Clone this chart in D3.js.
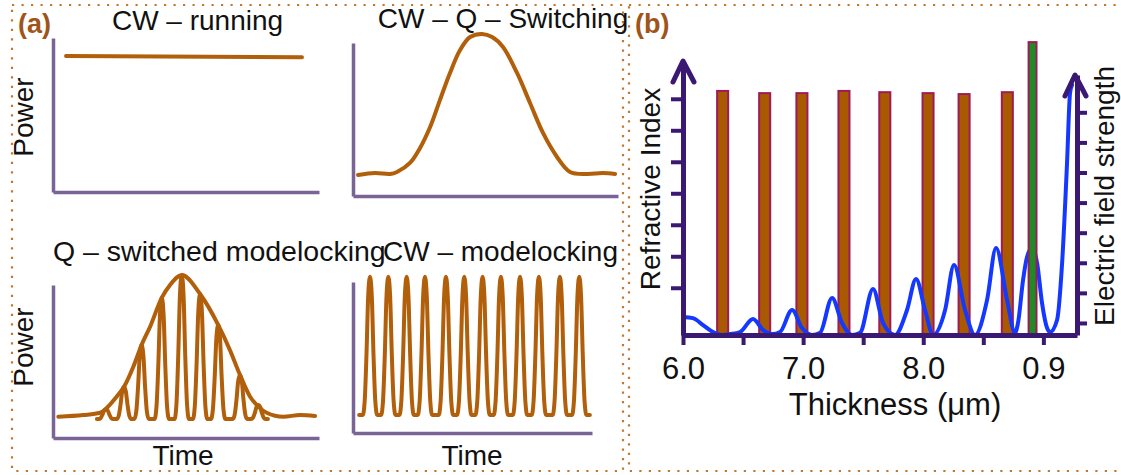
<!DOCTYPE html>
<html><head><meta charset="utf-8">
<script src="https://cdn.jsdelivr.net/npm/d3@7"></script>
<style>
body{margin:0;background:#fff}
svg{display:block;font-family:"Liberation Sans",Arial,Helvetica,sans-serif}
</style>
</head><body>
<svg id="c" width="1121" height="475"></svg>
<script>
// ---------- DATA (panel a: time in arbitrary units, power normalised) ----------
const cwRunning = [[0.49,0.883],[9.36,0.875]];
const qSwitching = [[0.19,0.137],[0.83,0.150],[1.40,0.144],[1.66,0.157],[2.15,0.216],[2.53,0.314],[2.91,0.451],[3.28,0.627],[3.66,0.804],[4.04,0.954],[4.42,1.039],[4.87,1.059],[5.25,1.039],[5.66,0.974],[6.19,0.804],[6.68,0.608],[7.17,0.412],[7.70,0.255],[8.19,0.157],[8.83,0.144],[9.43,0.150],[9.89,0.144]];
const qmlEnvelope = [[0.20,0.139],[1.14,0.150],[1.77,0.165],[2.39,0.270],[2.67,0.335],[3.02,0.466],[3.33,0.608],[3.65,0.727],[4.09,0.917],[4.40,1.000],[4.84,1.065],[5.53,0.941],[6.21,0.739],[6.65,0.575],[7.03,0.412],[7.41,0.270],[7.72,0.205],[8.03,0.165],[8.66,0.139],[9.29,0.150],[9.85,0.144]];
const qmlPulseTimes = [1.99,2.67,3.33,4.09,4.84,5.53,6.21,7.03,7.72];
const qmlPulsePeaks = [0.188,0.335,0.608,0.917,1.065,0.941,0.739,0.412,0.216];
const qmlBase = 0.124, qmlStart = 1.65, qmlEnd = 8.08;
const cwmlPulseTimes = [0.64,1.33,2.02,2.71,3.50,4.19,4.88,5.57,6.29,7.00,7.79,8.52];
const cwmlPeak = 1.035, cwmlBase = 0.119, cwmlStart = 0.23, cwmlEnd = 8.92;
// pulse profile: [time offset, fraction of pulse height]
const pulseShape = [[-0.27,0],[-0.2,0.1],[-0.13,0.45],[-0.07,0.85],[0,1],[0.07,0.85],[0.13,0.45],[0.2,0.1],[0.27,0]];

// ---------- DATA (panel b) ----------
const thicknessTicks = [6,6.5,7,7.5,8,8.5,9];
const thicknessTickLabels = ["6.0","","7.0","","8.0","","0.9"];
const indexTicks = [1.5,2.5,3.5,4.5,5.5,6.5,7.5];
const fieldTicks = [0.4,1.4,2.4,3.4,4.4,5.4,6.4,7.4];
const layerCenters = [6.33,6.68,6.99,7.34,7.68,8.04,8.34,8.70];
const layerIndex = [7.75,7.68,7.68,7.75,7.71,7.68,7.65,7.71];
const topLayerCenter = 8.91, topLayerIndex = 9.30;
const fieldCurve = [[6.000,0.60],[6.083,0.56],[6.167,0.33],[6.250,0.10],[6.325,0.0],[6.391,0.03],[6.475,0.10],[6.583,0.53],[6.666,0.17],[6.741,0.03],[6.808,0.10],[6.908,0.83],[6.991,0.23],[7.074,0.0],[7.141,0.07],[7.241,1.23],[7.324,0.40],[7.407,0.0],[7.474,0.07],[7.582,1.53],[7.665,0.40],[7.765,0.0],[7.865,0.83],[7.940,1.86],[8.015,0.83],[8.082,0.0],[8.182,0.83],[8.256,2.33],[8.348,0.83],[8.431,0.0],[8.531,1.16],[8.606,2.89],[8.698,1.16],[8.764,0.07],[8.789,0.40],[8.831,1.83],[8.864,2.59],[8.906,2.89],[8.948,2.39],[8.989,1.06],[9.031,0.23],[9.056,0.10],[9.114,0.50],[9.156,2.39],[9.197,5.71],[9.222,8.04],[9.239,8.31]];

// ---------- DRAWING ----------
const svg = d3.select("#c");
const BROWN = "#b15f0a", AXA = "#7a6496", DOT = "#c2782e", LBL = "#a0541a";
const AXB = "#3b1872", BLUE = "#1438ff";

svg.append("rect").attr("width",1121).attr("height",475).attr("fill","#fff");
// dotted frames
[[12,5,611,466],[629,5,500,466]].forEach(r=>{
  svg.append("rect").attr("x",r[0]).attr("y",r[1]).attr("width",r[2]).attr("height",r[3])
    .attr("fill","none").attr("stroke",DOT).attr("stroke-width",2.2).attr("stroke-dasharray","2.2,7.3");
});
svg.append("text").attr("x",18).attr("y",33).attr("font-size",27).attr("font-weight","bold").attr("fill",LBL).text("(a)");
svg.append("text").attr("x",635).attr("y",33).attr("font-size",27).attr("font-weight","bold").attr("fill",LBL).text("(b)");

function smallChart(cfg){
  const x = d3.scaleLinear().domain([0,cfg.tmax]).range(cfg.xr);
  const y = d3.scaleLinear().domain([0,1]).range(cfg.yr);
  const g = svg.append("g");
  const ax = g.append("g").attr("transform",`translate(${x(0)},0)`).call(d3.axisLeft(y).tickValues([]).tickSizeOuter(0));
  const bx = g.append("g").attr("transform",`translate(0,${y(0)})`).call(d3.axisBottom(x).tickValues([]).tickSizeOuter(0));
  [ax,bx].forEach(a=>a.select(".domain").attr("stroke",AXA).attr("stroke-width",3.5));
  const line = d3.line().x(d=>x(d[0])).y(d=>y(d[1])).curve(cfg.curve||d3.curveMonotoneX);
  cfg.series.forEach(s=>{
    g.append("path").attr("d",line(s)).attr("fill","none").attr("stroke",BROWN)
      .attr("stroke-width",4).attr("stroke-linejoin","round").attr("stroke-linecap","round");
  });
  return {x,y};
}
function pulseTrain(times, peaks, base, start, end){
  const pts = [[start,base]];
  times.forEach((t,i)=>{
    const h = peaks[i]-base;
    pulseShape.forEach(p=>pts.push([t+p[0], base+h*p[1]]));
  });
  pts.push([end,base]);
  return pts;
}

smallChart({tmax:10,xr:[53,319],yr:[192,38],series:[cwRunning],curve:d3.curveLinear});
smallChart({tmax:10,xr:[353,618],yr:[196,43],series:[qSwitching],curve:d3.curveCatmullRom});
smallChart({tmax:10,xr:[53,319],yr:[438,285],series:[
  pulseTrain(qmlPulseTimes,qmlPulsePeaks,qmlBase,qmlStart,qmlEnd), qmlEnvelope]});
smallChart({tmax:9,xr:[353,592],yr:[433,282],series:[
  pulseTrain(cwmlPulseTimes,cwmlPulseTimes.map(()=>cwmlPeak),cwmlBase,cwmlStart,cwmlEnd)]});

const txt = (x,y,s,size,anchor,rot)=>{
  const t = svg.append("text").attr("font-size",size).attr("fill","#111").attr("text-anchor",anchor||"start").text(s);
  if(rot) t.attr("transform",`translate(${x},${y}) rotate(-90)`); else t.attr("x",x).attr("y",y);
  return t;
};
txt(197.5,30,"CW – running",28,"middle");
txt(503,28,"CW – Q – Switching",28,"middle");
txt(53,261,"Q – switched modelocking",28.5,"start");
txt(383,261,"CW – modelocking",28,"start");
txt(33,117,"Power",28,"middle",true);
txt(33,347,"Power",28,"middle",true);
txt(183,465,"Time",28,"middle");
txt(472,465,"Time",28,"middle");

// ---------- panel b ----------
const xb = d3.scaleLinear().domain([6,9.28]).range([683,1077]);
const yL = d3.scaleLinear().domain([0,8.7]).range([335,61]);
const yR = d3.scaleLinear().domain([0,8.64]).range([335,75]);
const bw = 0.046, gw = 0.033;

svg.append("g").selectAll("rect").data(layerCenters).join("rect")
  .attr("x",d=>xb(d-bw)).attr("width",d=>xb(d+bw)-xb(d-bw))
  .attr("y",(d,i)=>yL(layerIndex[i])).attr("height",(d,i)=>yL(0)-yL(layerIndex[i]))
  .attr("fill","#a95a00").attr("stroke","#9e1b57").attr("stroke-width",2);

svg.append("path").attr("d",d3.line().x(d=>xb(d[0])).y(d=>yR(d[1])).curve(d3.curveMonotoneX)(fieldCurve))
  .attr("fill","none").attr("stroke",BLUE).attr("stroke-width",4).attr("stroke-linejoin","round").attr("stroke-linecap","round");

svg.append("rect").attr("x",xb(topLayerCenter-gw)).attr("width",xb(topLayerCenter+gw)-xb(topLayerCenter-gw))
  .attr("y",yL(topLayerIndex)).attr("height",yL(0)-yL(topLayerIndex))
  .attr("fill","#1f8b24").attr("stroke","#9e1b57").attr("stroke-width",2);

function styleAxis(g){
  g.select(".domain").attr("stroke",AXB).attr("stroke-width",5);
  g.selectAll(".tick line").attr("stroke",AXB).attr("stroke-width",4);
  g.selectAll(".tick text").attr("font-size",31).attr("fill","#111").attr("font-family",'"Liberation Sans",Arial,sans-serif');
}
const gl = svg.append("g").attr("transform",`translate(${xb(6)},0)`)
  .call(d3.axisLeft(yL).tickValues(indexTicks).tickSize(12).tickSizeOuter(0).tickFormat(""));
styleAxis(gl);
const gr = svg.append("g").attr("transform",`translate(${xb(9.28)},0)`)
  .call(d3.axisRight(yR).tickValues(fieldTicks).tickSize(10).tickSizeOuter(0).tickFormat(""));
styleAxis(gr);
const gb = svg.append("g").attr("transform",`translate(0,${yL(0)})`)
  .call(d3.axisBottom(xb).tickValues(thicknessTicks).tickSize(10).tickPadding(12).tickSizeOuter(0)
  .tickFormat((d,i)=>thicknessTickLabels[i]));
styleAxis(gb);

// arrow heads
const arrow = (x0,y0)=>svg.append("path")
  .attr("d",`M${x0-10},${y0+21}L${x0},${y0}L${x0+11},${y0+21}`)
  .attr("fill","none").attr("stroke",AXB).attr("stroke-width",5).attr("stroke-linecap","round").attr("stroke-linejoin","round");
arrow(xb(6),yL(8.7));
arrow(xb(9.28)-2,yR(8.64));

txt(660,189,"Refractive Index",28,"middle",true);
txt(1114,196,"Electric field strength",28,"middle",true);
txt(895,415,"Thickness (μm)",31,"middle");
</script>
</body></html>
